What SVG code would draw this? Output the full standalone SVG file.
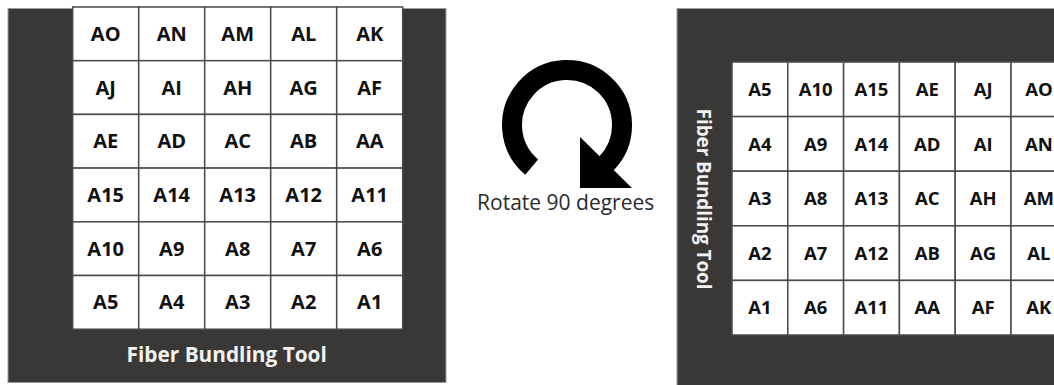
<svg xmlns="http://www.w3.org/2000/svg" width="1054" height="385" viewBox="0 0 1054 385">
  <style>
    .panel { fill: #3a3836; stroke: #9c9c9c; stroke-width: 1; }
    .cell rect { fill: #ffffff; stroke: #4a4a4a; stroke-width: 1.5; }
    .cellL { font-family: "Open Sans", "Liberation Sans", sans-serif; font-weight: 700; font-size: 20px; fill: #111111; text-anchor: middle; }
    .cellR { font-family: "Open Sans", "Liberation Sans", sans-serif; font-weight: 700; font-size: 18.5px; fill: #111111; text-anchor: middle; }
    .title { font-family: "Open Sans", "Liberation Sans", sans-serif; font-weight: 700; fill: #f2f2f2; text-anchor: middle; }
    .caption { font-family: "Open Sans", "Liberation Sans", sans-serif; font-weight: 400; font-size: 21px; fill: #2b2b2b; text-anchor: middle; }
  </style>

  <rect width="1054" height="385" fill="#ffffff"/>

  <!-- Original bundle: 5 x 6 grid -->
  <g id="tool-original">
    <rect class="panel" x="8" y="8.5" width="438" height="374"/>
    <text class="title" x="226.7" y="362.3" font-size="20.8">Fiber Bundling Tool</text>
  </g>
  <g id="grid-original" class="cell">
    <g id="o-r1c1"><rect x="72.7" y="7" width="66" height="53.7"/><text class="cellL" x="105.7" y="40.9">AO</text></g>
    <g id="o-r1c2"><rect x="138.7" y="7" width="66" height="53.7"/><text class="cellL" x="171.7" y="40.9">AN</text></g>
    <g id="o-r1c3"><rect x="204.7" y="7" width="66" height="53.7"/><text class="cellL" x="237.7" y="40.9">AM</text></g>
    <g id="o-r1c4"><rect x="270.7" y="7" width="66" height="53.7"/><text class="cellL" x="303.7" y="40.9">AL</text></g>
    <g id="o-r1c5"><rect x="336.7" y="7" width="66" height="53.7"/><text class="cellL" x="369.7" y="40.9">AK</text></g>

    <g id="o-r2c1"><rect x="72.7" y="60.7" width="66" height="53.7"/><text class="cellL" x="105.7" y="94.6">AJ</text></g>
    <g id="o-r2c2"><rect x="138.7" y="60.7" width="66" height="53.7"/><text class="cellL" x="171.7" y="94.6">AI</text></g>
    <g id="o-r2c3"><rect x="204.7" y="60.7" width="66" height="53.7"/><text class="cellL" x="237.7" y="94.6">AH</text></g>
    <g id="o-r2c4"><rect x="270.7" y="60.7" width="66" height="53.7"/><text class="cellL" x="303.7" y="94.6">AG</text></g>
    <g id="o-r2c5"><rect x="336.7" y="60.7" width="66" height="53.7"/><text class="cellL" x="369.7" y="94.6">AF</text></g>

    <g id="o-r3c1"><rect x="72.7" y="114.4" width="66" height="53.7"/><text class="cellL" x="105.7" y="148.3">AE</text></g>
    <g id="o-r3c2"><rect x="138.7" y="114.4" width="66" height="53.7"/><text class="cellL" x="171.7" y="148.3">AD</text></g>
    <g id="o-r3c3"><rect x="204.7" y="114.4" width="66" height="53.7"/><text class="cellL" x="237.7" y="148.3">AC</text></g>
    <g id="o-r3c4"><rect x="270.7" y="114.4" width="66" height="53.7"/><text class="cellL" x="303.7" y="148.3">AB</text></g>
    <g id="o-r3c5"><rect x="336.7" y="114.4" width="66" height="53.7"/><text class="cellL" x="369.7" y="148.3">AA</text></g>

    <g id="o-r4c1"><rect x="72.7" y="168.1" width="66" height="53.7"/><text class="cellL" x="105.7" y="202">A15</text></g>
    <g id="o-r4c2"><rect x="138.7" y="168.1" width="66" height="53.7"/><text class="cellL" x="171.7" y="202">A14</text></g>
    <g id="o-r4c3"><rect x="204.7" y="168.1" width="66" height="53.7"/><text class="cellL" x="237.7" y="202">A13</text></g>
    <g id="o-r4c4"><rect x="270.7" y="168.1" width="66" height="53.7"/><text class="cellL" x="303.7" y="202">A12</text></g>
    <g id="o-r4c5"><rect x="336.7" y="168.1" width="66" height="53.7"/><text class="cellL" x="369.7" y="202">A11</text></g>

    <g id="o-r5c1"><rect x="72.7" y="221.8" width="66" height="53.7"/><text class="cellL" x="105.7" y="255.7">A10</text></g>
    <g id="o-r5c2"><rect x="138.7" y="221.8" width="66" height="53.7"/><text class="cellL" x="171.7" y="255.7">A9</text></g>
    <g id="o-r5c3"><rect x="204.7" y="221.8" width="66" height="53.7"/><text class="cellL" x="237.7" y="255.7">A8</text></g>
    <g id="o-r5c4"><rect x="270.7" y="221.8" width="66" height="53.7"/><text class="cellL" x="303.7" y="255.7">A7</text></g>
    <g id="o-r5c5"><rect x="336.7" y="221.8" width="66" height="53.7"/><text class="cellL" x="369.7" y="255.7">A6</text></g>

    <g id="o-r6c1"><rect x="72.7" y="275.5" width="66" height="53.7"/><text class="cellL" x="105.7" y="309.4">A5</text></g>
    <g id="o-r6c2"><rect x="138.7" y="275.5" width="66" height="53.7"/><text class="cellL" x="171.7" y="309.4">A4</text></g>
    <g id="o-r6c3"><rect x="204.7" y="275.5" width="66" height="53.7"/><text class="cellL" x="237.7" y="309.4">A3</text></g>
    <g id="o-r6c4"><rect x="270.7" y="275.5" width="66" height="53.7"/><text class="cellL" x="303.7" y="309.4">A2</text></g>
    <g id="o-r6c5"><rect x="336.7" y="275.5" width="66" height="53.7"/><text class="cellL" x="369.7" y="309.4">A1</text></g>
  </g>

  <!-- Clockwise rotation symbol -->
  <g id="rotate-icon">
    <path d="M531.65,167.13 A55,55 0 1 1 606.30,163.48" fill="none" stroke="#000000" stroke-width="20"/>
    <polygon points="580,137 632,188 580,188" fill="#000000"/>
    <text class="caption" x="565.7" y="210">Rotate 90 degrees</text>
  </g>

  <!-- Rotated bundle: 6 x 5 grid -->
  <g id="tool-rotated">
    <rect class="panel" x="677" y="8.5" width="400" height="400"/>
    <text class="title" font-size="18.8" transform="translate(697,199) rotate(90)">Fiber Bundling Tool</text>
  </g>
  <g id="grid-rotated" class="cell">
    <g id="r-r1c1"><rect x="732" y="62" width="55.8" height="54.6"/><text class="cellR" x="759.9" y="95.9">A5</text></g>
    <g id="r-r1c2"><rect x="787.8" y="62" width="55.8" height="54.6"/><text class="cellR" x="815.7" y="95.9">A10</text></g>
    <g id="r-r1c3"><rect x="843.6" y="62" width="55.8" height="54.6"/><text class="cellR" x="871.5" y="95.9">A15</text></g>
    <g id="r-r1c4"><rect x="899.4" y="62" width="55.8" height="54.6"/><text class="cellR" x="927.3" y="95.9">AE</text></g>
    <g id="r-r1c5"><rect x="955.2" y="62" width="55.8" height="54.6"/><text class="cellR" x="983.1" y="95.9">AJ</text></g>
    <g id="r-r1c6"><rect x="1011" y="62" width="55.8" height="54.6"/><text class="cellR" x="1038.9" y="95.9">AO</text></g>

    <g id="r-r2c1"><rect x="732" y="116.6" width="55.8" height="54.6"/><text class="cellR" x="759.9" y="150.5">A4</text></g>
    <g id="r-r2c2"><rect x="787.8" y="116.6" width="55.8" height="54.6"/><text class="cellR" x="815.7" y="150.5">A9</text></g>
    <g id="r-r2c3"><rect x="843.6" y="116.6" width="55.8" height="54.6"/><text class="cellR" x="871.5" y="150.5">A14</text></g>
    <g id="r-r2c4"><rect x="899.4" y="116.6" width="55.8" height="54.6"/><text class="cellR" x="927.3" y="150.5">AD</text></g>
    <g id="r-r2c5"><rect x="955.2" y="116.6" width="55.8" height="54.6"/><text class="cellR" x="983.1" y="150.5">AI</text></g>
    <g id="r-r2c6"><rect x="1011" y="116.6" width="55.8" height="54.6"/><text class="cellR" x="1038.9" y="150.5">AN</text></g>

    <g id="r-r3c1"><rect x="732" y="171.2" width="55.8" height="54.6"/><text class="cellR" x="759.9" y="205.1">A3</text></g>
    <g id="r-r3c2"><rect x="787.8" y="171.2" width="55.8" height="54.6"/><text class="cellR" x="815.7" y="205.1">A8</text></g>
    <g id="r-r3c3"><rect x="843.6" y="171.2" width="55.8" height="54.6"/><text class="cellR" x="871.5" y="205.1">A13</text></g>
    <g id="r-r3c4"><rect x="899.4" y="171.2" width="55.8" height="54.6"/><text class="cellR" x="927.3" y="205.1">AC</text></g>
    <g id="r-r3c5"><rect x="955.2" y="171.2" width="55.8" height="54.6"/><text class="cellR" x="983.1" y="205.1">AH</text></g>
    <g id="r-r3c6"><rect x="1011" y="171.2" width="55.8" height="54.6"/><text class="cellR" x="1038.9" y="205.1">AM</text></g>

    <g id="r-r4c1"><rect x="732" y="225.8" width="55.8" height="54.6"/><text class="cellR" x="759.9" y="259.7">A2</text></g>
    <g id="r-r4c2"><rect x="787.8" y="225.8" width="55.8" height="54.6"/><text class="cellR" x="815.7" y="259.7">A7</text></g>
    <g id="r-r4c3"><rect x="843.6" y="225.8" width="55.8" height="54.6"/><text class="cellR" x="871.5" y="259.7">A12</text></g>
    <g id="r-r4c4"><rect x="899.4" y="225.8" width="55.8" height="54.6"/><text class="cellR" x="927.3" y="259.7">AB</text></g>
    <g id="r-r4c5"><rect x="955.2" y="225.8" width="55.8" height="54.6"/><text class="cellR" x="983.1" y="259.7">AG</text></g>
    <g id="r-r4c6"><rect x="1011" y="225.8" width="55.8" height="54.6"/><text class="cellR" x="1038.9" y="259.7">AL</text></g>

    <g id="r-r5c1"><rect x="732" y="280.4" width="55.8" height="54.6"/><text class="cellR" x="759.9" y="314.3">A1</text></g>
    <g id="r-r5c2"><rect x="787.8" y="280.4" width="55.8" height="54.6"/><text class="cellR" x="815.7" y="314.3">A6</text></g>
    <g id="r-r5c3"><rect x="843.6" y="280.4" width="55.8" height="54.6"/><text class="cellR" x="871.5" y="314.3">A11</text></g>
    <g id="r-r5c4"><rect x="899.4" y="280.4" width="55.8" height="54.6"/><text class="cellR" x="927.3" y="314.3">AA</text></g>
    <g id="r-r5c5"><rect x="955.2" y="280.4" width="55.8" height="54.6"/><text class="cellR" x="983.1" y="314.3">AF</text></g>
    <g id="r-r5c6"><rect x="1011" y="280.4" width="55.8" height="54.6"/><text class="cellR" x="1038.9" y="314.3">AK</text></g>
  </g>
</svg>
